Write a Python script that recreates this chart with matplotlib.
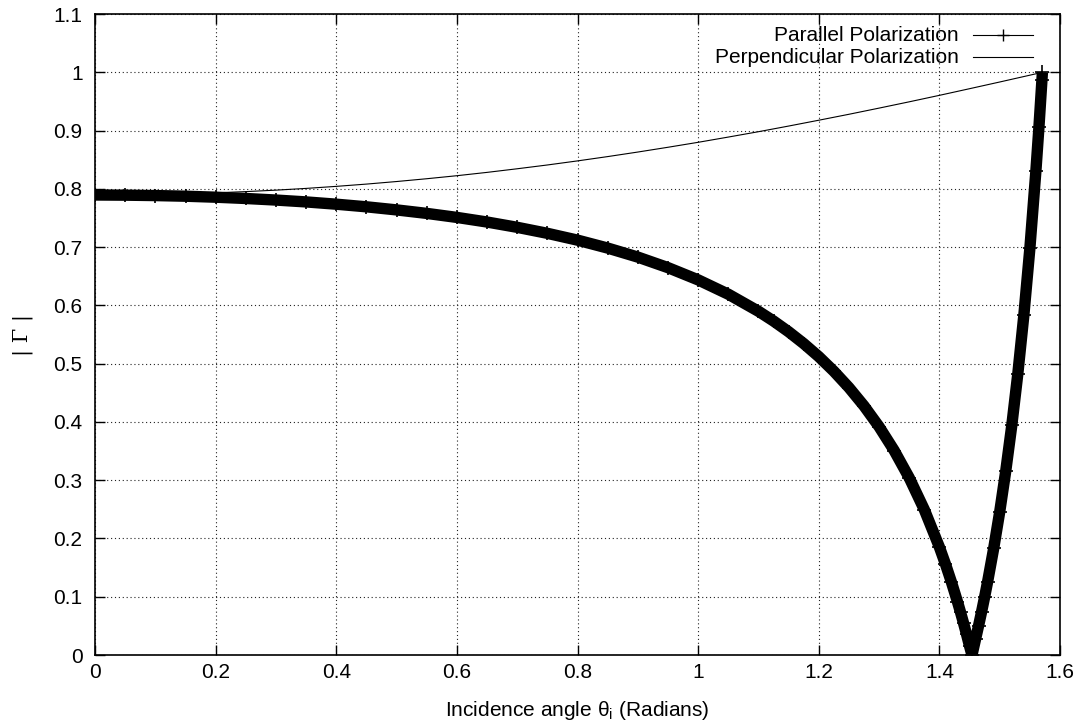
import matplotlib
matplotlib.use("Agg")
import matplotlib.pyplot as plt
from matplotlib.lines import Line2D
from matplotlib.ticker import FuncFormatter, MultipleLocator

plt.rcParams["font.family"] = ["Liberation Sans", "DejaVu Sans"]
plt.rcParams["mathtext.fontset"] = "custom"
plt.rcParams["mathtext.rm"] = "Liberation Sans"
plt.rcParams["mathtext.it"] = "Liberation Sans"

# incidence angle (rad) and reflection magnitude, parallel polarization
theta_par = [0.0, 0.05, 0.1, 0.15, 0.2, 0.25, 0.3, 0.35, 0.4, 0.45, 0.5,
             0.55, 0.6, 0.65, 0.7, 0.75, 0.8, 0.85, 0.9, 0.95, 1.0, 1.05,
             1.1, 1.125, 1.15, 1.175, 1.2, 1.225, 1.25, 1.275, 1.3, 1.325,
             1.35, 1.375, 1.4, 1.41, 1.42, 1.43, 1.435, 1.44, 1.445, 1.45,
             1.454, 1.46, 1.465, 1.47, 1.475, 1.48, 1.49, 1.5, 1.51, 1.52,
             1.53, 1.54, 1.55, 1.56, 1.565, 1.57, 1.5708]
gamma_par = [0.7895, 0.7892, 0.7885, 0.7874, 0.7857, 0.7835, 0.7808, 0.7776,
             0.7737, 0.7692, 0.7639, 0.7579, 0.7510, 0.7431, 0.7340, 0.7237,
             0.7120, 0.6984, 0.6829, 0.6648, 0.6438, 0.6192, 0.5899, 0.5732,
             0.5548, 0.5345, 0.5121, 0.4870, 0.4590, 0.4275, 0.3918, 0.3510,
             0.3041, 0.2495, 0.1852, 0.1562, 0.1250, 0.0913, 0.0735, 0.0549,
             0.0356, 0.0154, 0.0000, 0.0276, 0.0505, 0.0745, 0.0997, 0.1261,
             0.1829, 0.2457, 0.3157, 0.3940, 0.4824, 0.5829, 0.6979, 0.8308,
             0.9054, 0.9865, 1.0000]

# perpendicular polarization
theta_perp = [0.0, 0.05, 0.1, 0.15, 0.2, 0.25, 0.3, 0.35, 0.4, 0.45, 0.5,
              0.55, 0.6, 0.65, 0.7, 0.75, 0.8, 0.85, 0.9, 0.95, 1.0, 1.05,
              1.1, 1.15, 1.2, 1.25, 1.3, 1.35, 1.4, 1.45, 1.5, 1.55, 1.5708]
gamma_perp = [0.7895, 0.7897, 0.7904, 0.7916, 0.7932, 0.7953, 0.7978, 0.8008,
              0.8043, 0.8082, 0.8126, 0.8174, 0.8226, 0.8283, 0.8345, 0.8410,
              0.8480, 0.8554, 0.8632, 0.8714, 0.8799, 0.8889, 0.8981, 0.9078,
              0.9178, 0.9280, 0.9386, 0.9494, 0.9605, 0.9719, 0.9834, 0.9951,
              1.0000]

labels = ["Parallel Polarization", "Perpendicular Polarization"]
FS = 15

fig = plt.figure(figsize=(10.8, 7.21), dpi=100)
ax = fig.add_axes([0.088, 0.0915, 0.8935, 0.889])

# dense '+' samples make a thick band, so draw a heavy line plus markers
ax.plot(theta_par, gamma_par, color="black", lw=8.2, solid_joinstyle="miter",
        solid_capstyle="butt", zorder=3)
ax.plot(theta_par, gamma_par, ls="none", marker="+", ms=10, mew=1.2,
        color="black", zorder=3)
ax.plot(theta_perp, gamma_perp, color="black", lw=0.8, zorder=4)

ax.set_xlim(0, 1.6)
ax.set_ylim(0, 1.1)
ax.xaxis.set_major_locator(MultipleLocator(0.2))
ax.yaxis.set_major_locator(MultipleLocator(0.1))
fmt = FuncFormatter(lambda v, p: f"{round(v, 2):g}")
ax.xaxis.set_major_formatter(fmt)
ax.yaxis.set_major_formatter(fmt)
ax.tick_params(direction="in", length=7, width=1, top=True, right=True,
               labelsize=FS, pad=6, colors="black")
ax.tick_params(axis="y", pad=9)
ax.grid(True, ls=(0, (1, 2.5)), lw=0.8, color="#222222")
for sp in ax.spines.values():
    sp.set_linewidth(1.2)

ax.set_xlabel("Incidence angle θ$_\\mathrm{i}$ (Radians)", fontsize=FS,
              labelpad=12)
ax.set_ylabel("| Γ |", fontsize=FS, family=["DejaVu Serif"], labelpad=15)

# key in gnuplot style: right-aligned text followed by a sample
rows = [0.967, 0.933]
for i, (lab, y) in enumerate(zip(labels, rows)):
    ax.text(0.895, y, lab, transform=ax.transAxes, ha="right", va="center",
            fontsize=FS)
    ax.add_line(Line2D([0.91, 0.972], [y, y], transform=ax.transAxes,
                       color="black", lw=0.8))
    if i == 0:
        ax.add_line(Line2D([0.941], [y], transform=ax.transAxes, marker="+",
                           ms=9, mew=1, color="black"))

fig.savefig("out.png", dpi=100)
